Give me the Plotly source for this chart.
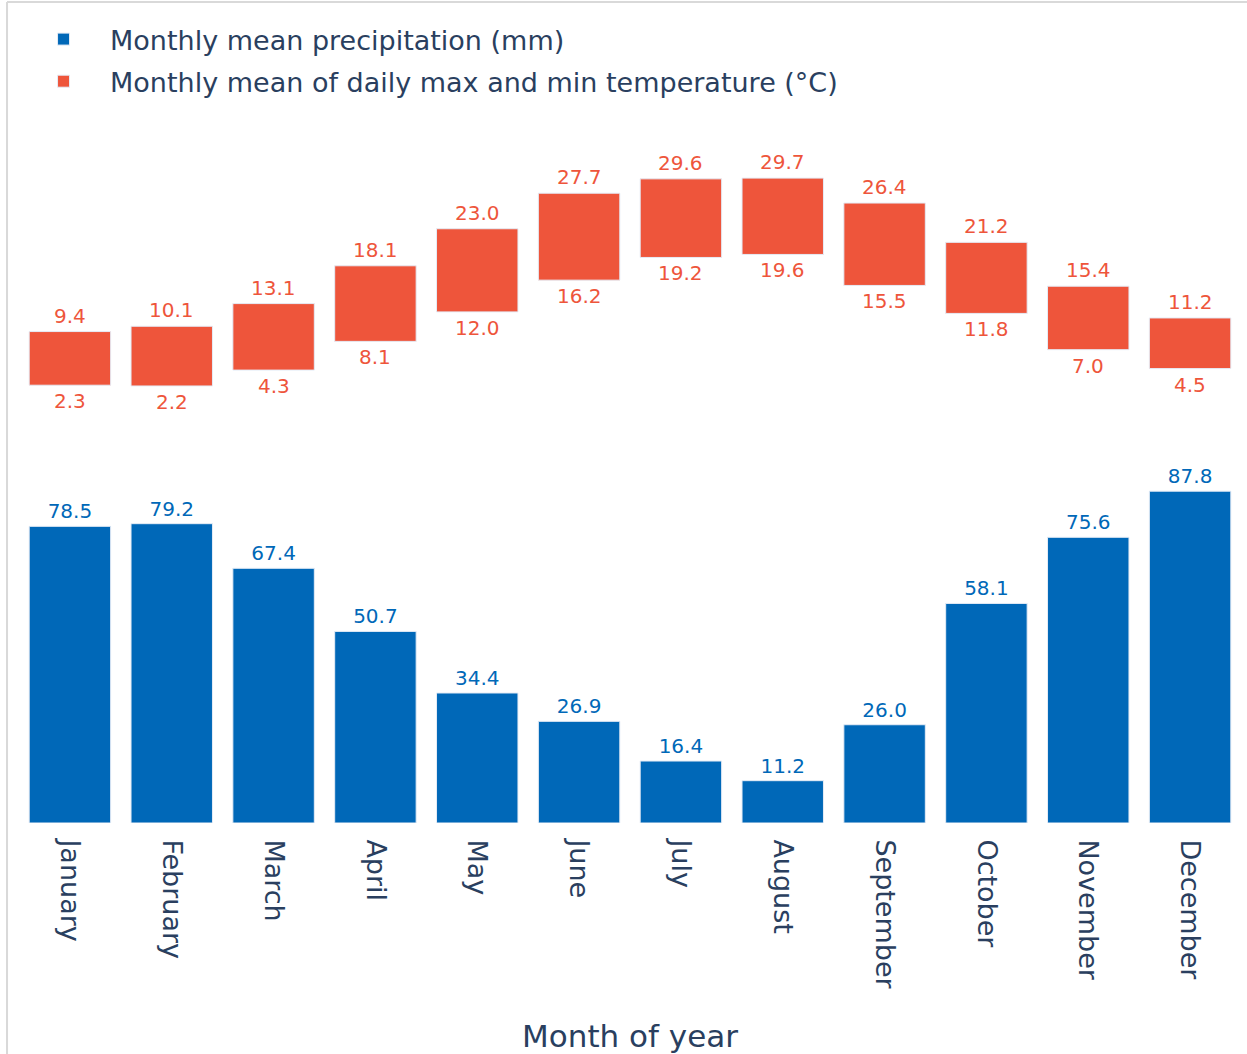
import plotly.graph_objects as go
from plotly.subplots import make_subplots

# Monthly climate normals
months = ["January", "February", "March", "April", "May", "June", "July",
          "August", "September", "October", "November", "December"]
precip_mm = [78.5, 79.2, 67.4, 50.7, 34.4, 26.9, 16.4, 11.2, 26.0, 58.1, 75.6, 87.8]
temp_max = [9.4, 10.1, 13.1, 18.1, 23.0, 27.7, 29.6, 29.7, 26.4, 21.2, 15.4, 11.2]
temp_min = [2.3, 2.2, 4.3, 8.1, 12.0, 16.2, 19.2, 19.6, 15.5, 11.8, 7.0, 4.5]

BLUE = "#0068b8"
RED = "#ee553b"
FONT = "DejaVu Sans"
INK = "#2a3f5f"

fig = make_subplots(rows=2, cols=1, shared_xaxes=True, vertical_spacing=0.0)

# precipitation bars (bottom panel)
fig.add_trace(go.Bar(
    x=months, y=precip_mm, name="Monthly mean precipitation (mm)",
    legendgroup="precip",
    marker=dict(color=BLUE, line=dict(color="#E5ECF6", width=1)),
    text=[f"{v:.1f}" for v in precip_mm], textposition="outside",
    constraintext="none",
    textfont=dict(color=BLUE, size=20, family=FONT), cliponaxis=False,
), row=2, col=1)

# floating temperature range bars (top panel)
fig.add_trace(go.Bar(
    x=months, y=[hi - lo for hi, lo in zip(temp_max, temp_min)], base=temp_min,
    name="Monthly mean of daily max and min temperature (°C)",
    legendgroup="temp",
    marker=dict(color=RED, line=dict(color="#E5ECF6", width=1)),
), row=1, col=1)

# max labels above, min labels below each range bar
annotations = []
for m, hi, lo in zip(months, temp_max, temp_min):
    annotations.append(dict(x=m, y=hi, xref="x", yref="y", text=f"{hi:.1f}",
                            showarrow=False, yanchor="bottom", yshift=2,
                            font=dict(color=RED, size=20, family=FONT)))
    annotations.append(dict(x=m, y=lo, xref="x", yref="y", text=f"{lo:.1f}",
                            showarrow=False, yanchor="top", yshift=-2,
                            font=dict(color=RED, size=20, family=FONT)))

fig.update_layout(
    width=1247, height=1054,
    margin=dict(l=19, r=6, t=10, b=231),
    plot_bgcolor="white", paper_bgcolor="white",
    font=dict(family=FONT, color=INK, size=27),
    bargap=0.2,
    legend=dict(x=-0.0016, y=0.9938, xanchor="left", yanchor="top",
                itemwidth=83, tracegroupgap=4, traceorder="grouped",
                font=dict(size=27, color=INK), bgcolor="rgba(0,0,0,0)"),
    annotations=annotations,
    # frame lines along the top and left edges
    shapes=[
        dict(type="line", xref="paper", yref="paper", x0=-0.0098, x1=1.01,
             y0=1.0098, y1=1.0098, line=dict(color="#d9d9d9", width=2)),
        dict(type="line", xref="paper", yref="paper", x0=-0.0098, x1=-0.0098,
             y0=-0.29, y1=1.0098, line=dict(color="#d9d9d9", width=2)),
    ],
)

fig.update_xaxes(showgrid=False, zeroline=False, showline=False,
                 range=[-0.5, 11.5])
fig.update_xaxes(showticklabels=False, ticks="", row=1, col=1)
fig.update_xaxes(tickangle=90, tickfont=dict(size=27, color=INK),
                 ticks="outside", ticklen=10, tickcolor="rgba(0,0,0,0)",
                 title=dict(text="Month of year", font=dict(size=31, color=INK), standoff=38),
                 row=2, col=1)

fig.update_yaxes(showgrid=False, zeroline=False, showline=False,
                 showticklabels=False, ticks="")
fig.update_yaxes(range=[-2.3, 34.74], domain=[0.4957, 0.8401], row=1, col=1)
fig.update_yaxes(range=[0, 98.7], domain=[0.0, 0.4588], row=2, col=1)

fig.write_html("out.html")
